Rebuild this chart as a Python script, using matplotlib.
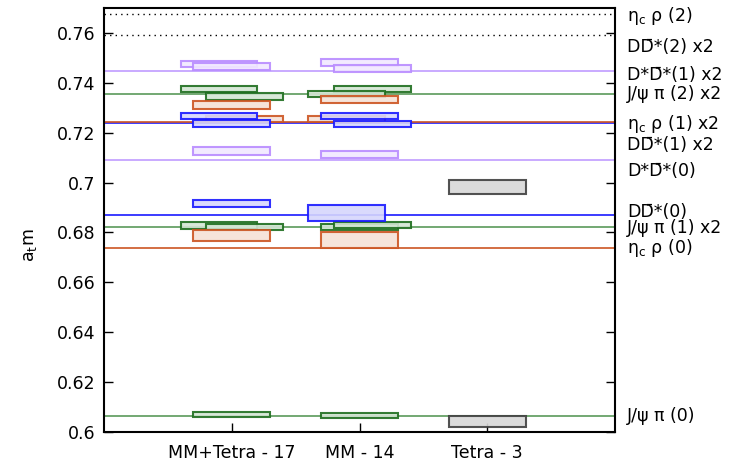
import numpy as np
import matplotlib.pyplot as plt
from matplotlib.patches import Rectangle
import matplotlib.transforms as mtransforms

# categories on the x axis
ensembles = ["MM+Tetra - 17", "MM - 14", "Tetra - 3"]

# threshold energies and their labels
thr_val = [0.7676, 0.7591, 0.7447, 0.7357, 0.7243, 0.7238, 0.7089, 0.6871, 0.6821, 0.6737, 0.6064]
thr_lab = ["η$_\\mathrm{c}$ ρ (2)", "DD\u0304*(2) x2", "D*D\u0304*(1) x2", "J/ψ π (2) x2",
           "η$_\\mathrm{c}$ ρ (1) x2", "DD\u0304*(1) x2", "D*D\u0304*(0)", "DD\u0304*(0)",
           "J/ψ π (1) x2", "η$_\\mathrm{c}$ ρ (0)", "J/ψ π (0)"]
thr_kind = ["eta", "dd", "dsds", "psi", "eta", "dd", "dsds", "dd", "psi", "eta", "psi"]
thr_dotted = [True, True, False, False, False, False, False, False, False, False, False]
lab_y = [0.7667, 0.7544, 0.7432, 0.7356, 0.7235, 0.7151, 0.7047, 0.6884, 0.6816, 0.6738, 0.6064]

# levels: ensemble index, energy, error, small horizontal shift
dd_col = [0, 0, 0, 1, 1, 1]
dd_e = [0.7266, 0.7236, 0.6917, 0.7266, 0.7235, 0.6878]
dd_err = [0.0012, 0.0014, 0.0013, 0.0012, 0.0013, 0.0031]
dd_sh = [-0.1, 0, 0, 0, 0.1, -0.1]

psi_col = [0, 0, 0, 0, 0, 1, 1, 1, 1, 1]
psi_e = [0.7375, 0.7345, 0.6828, 0.6821, 0.6071, 0.7375, 0.7355, 0.6823, 0.6829, 0.6065]
psi_err = [0.0012, 0.0013, 0.0013, 0.0011, 0.0009, 0.0013, 0.0011, 0.0012, 0.0013, 0.0010]
psi_sh = [-0.1, 0.1, -0.1, 0.1, 0, 0.1, -0.1, 0, 0.1, 0]

eta_col = [0, 0, 0, 1, 1, 1]
eta_e = [0.7312, 0.7254, 0.6787, 0.7333, 0.7256, 0.6769]
eta_err = [0.0017, 0.0011, 0.0021, 0.0015, 0.0012, 0.0033]
eta_sh = [0, 0.1, 0, 0, -0.1, 0]

dsds_col = [0, 0, 0, 1, 1, 1]
dsds_e = [0.7476, 0.7465, 0.7126, 0.7482, 0.7457, 0.7112]
dsds_err = [0.0013, 0.0013, 0.0016, 0.0014, 0.0015, 0.0014]
dsds_sh = [-0.1, 0, 0, 0, 0.1, 0]

tet_col = [2, 2]
tet_e = [0.6982, 0.6043]
tet_err = [0.0027, 0.0021]
tet_sh = [0, 0]

edge = {"dd": "#1a1aff", "psi": "#1f6e1f", "eta": "#cc5522", "dsds": "#b98cff", "tet": "#404040"}
face = {"dd": "#d6d6fc", "psi": "#d4e6d4", "eta": "#f5e1d6", "dsds": "#f1e8ff", "tet": "#d8d8d8"}
line_c = {"dd": "#1a1aff", "psi": "#5a9a5a", "eta": "#cc5522", "dsds": "#c09cff"}
line_z = {"dd": 1.0, "psi": 1.1, "eta": 1.2, "dsds": 1.1}

plt.rcParams["font.size"] = 12.5
plt.rcParams["mathtext.fontset"] = "dejavusans"

fig = plt.figure(figsize=(7.29, 4.62), dpi=100)
ax = fig.add_axes([104 / 729, 30 / 462, 511 / 729, 424 / 462])

for v, k, dot in zip(thr_val, thr_kind, thr_dotted):
    if dot:
        ax.axhline(v, color="black", lw=1, ls=(0, (1, 3)), zorder=1)
    else:
        ax.axhline(v, color=line_c[k], lw=1.2, zorder=line_z[k])

series = [("psi", psi_col, psi_e, psi_err, psi_sh),
          ("eta", eta_col, eta_e, eta_err, eta_sh),
          ("dd", dd_col, dd_e, dd_err, dd_sh),
          ("dsds", dsds_col, dsds_e, dsds_err, dsds_sh),
          ("tet", tet_col, tet_e, tet_err, tet_sh)]
for k, col, e, err, sh in series:
    for c, y, dy, s in zip(col, e, err, sh):
        ax.add_patch(Rectangle((c + s - 0.3, y - dy), 0.6, 2 * dy,
                               facecolor=face[k], edgecolor=edge[k], lw=1.5, alpha=0.9, zorder=2))

ax.set_xlim(-1, 3)
ax.set_ylim(0.6, 0.77)
ax.set_xticks(range(len(ensembles)))
ax.set_xticklabels(ensembles)
yt = np.arange(0.6, 0.7601, 0.02)
ax.set_yticks(yt)
ax.set_yticklabels(["%g" % round(t, 2) for t in yt])
ax.tick_params(direction="in", length=6.5, width=1, right=True, pad=6)
ax.tick_params(axis="x", pad=9)
for sp in ax.spines.values():
    sp.set_linewidth(1.5)

# labels for the thresholds on the right
trans = mtransforms.blended_transform_factory(ax.transAxes, ax.transData)
for ly, txt in zip(lab_y, thr_lab):
    ax.text(1.0235, ly, txt, transform=trans, va="center", ha="left")

fig.text(30 / 729, 1 - 245 / 462, "a$_\\mathrm{t}$m", rotation=90, va="center", ha="center")

fig.savefig("out.png", dpi=100)
